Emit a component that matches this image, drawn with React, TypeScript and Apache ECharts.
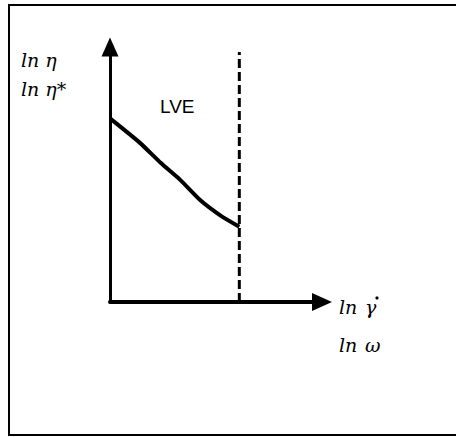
import React, { useEffect, useRef } from "react";
import * as echarts from "echarts";

// Viscosity curve in the linear viscoelastic (LVE) region, ln-ln axes
const curveX = [0, 1.4, 2.4, 3.3, 4.25, 5.2, 6.1];
const curveY = [7.2, 6.25, 5.45, 4.8, 4.0, 3.4, 2.95];

// Upper limit of the LVE region (dashed boundary)
const lveLimitX = 6.1;
const lveLimitY = [0, 9.8];

const yAxisTitles = ["ln η", "ln η*"];
const xAxisPrefix = "ln";
const xAxisSymbols = ["γ", "ω"];
const regionLabel = "LVE";

export default function App() {
  const ref = useRef<HTMLDivElement>(null);

  useEffect(() => {
    if (!ref.current) return;
    const chart = echarts.init(ref.current, null, { renderer: "svg" });

    const axisCommon = {
      type: "value" as const,
      min: 0,
      max: 10,
      axisTick: { show: false },
      axisLabel: { show: false },
      splitLine: { show: false },
    };

    const italicFont = "italic 19px 'DejaVu Serif', 'Liberation Serif', serif";

    chart.setOption({
      animation: false,
      backgroundColor: "#fff",
      grid: { left: 110, right: 134, top: 47, bottom: 135 },
      xAxis: {
        ...axisCommon,
        axisLine: {
          show: true,
          onZero: false,
          symbol: ["none", "triangle"],
          symbolSize: [18, 20],
          lineStyle: { color: "#000", width: 4 },
        },
      },
      yAxis: {
        ...axisCommon,
        axisLine: {
          show: true,
          onZero: false,
          symbol: ["none", "triangle"],
          symbolSize: [17, 19],
          lineStyle: { color: "#000", width: 3 },
        },
      },
      series: [
        {
          type: "line",
          data: curveX.map((x, i) => [x, curveY[i]]),
          showSymbol: false,
          smooth: 0.2,
          lineStyle: { color: "#000", width: 4 },
        },
        {
          type: "line",
          data: lveLimitY.map((y) => [lveLimitX, y]),
          showSymbol: false,
          lineStyle: { color: "#000", width: 3, type: [9, 4] },
        },
      ],
      graphic: [
        {
          type: "rect",
          shape: { x: 9, y: 5, width: 460, height: 430 },
          style: { fill: "none", stroke: "#000", lineWidth: 2 },
          silent: true,
        },
        ...yAxisTitles.map((t, i) => ({
          type: "text",
          left: 21,
          top: 50 + i * 29,
          style: { text: t, font: italicFont, fill: "#000" },
        })),
        ...xAxisSymbols.flatMap((s, i) => [
          {
            type: "text",
            left: 339,
            top: 297 + i * 38,
            style: { text: xAxisPrefix, font: italicFont, fill: "#000" },
          },
          {
            type: "text",
            left: 365,
            top: 297 + i * 38,
            style: { text: s, font: italicFont, fill: "#000" },
          },
        ]),
        // dot of the shear-rate symbol
        {
          type: "circle",
          shape: { cx: 377, cy: 298, r: 1.6 },
          style: { fill: "#000" },
        },
        {
          type: "text",
          left: 160,
          top: 97,
          style: {
            text: regionLabel,
            font: "19px 'Liberation Sans', Arial, sans-serif",
            fill: "#000",
          },
        },
      ],
    });

    return () => chart.dispose();
  }, []);

  return (
    <div
      ref={ref}
      style={{ position: "fixed", left: 0, top: 0, width: 456, height: 437 }}
    />
  );
}
